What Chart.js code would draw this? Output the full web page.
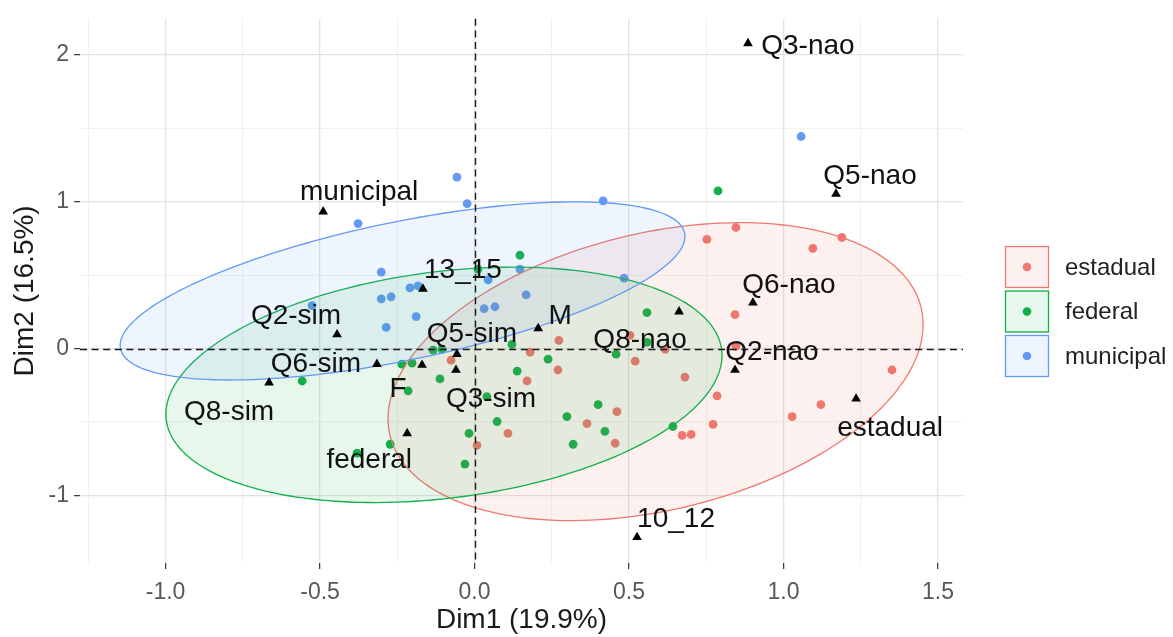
<!DOCTYPE html>
<html>
<head>
<meta charset="utf-8">
<title>MCA biplot</title>
<script src="https://cdn.jsdelivr.net/npm/chart.js@4.4.1/dist/chart.umd.min.js"></script>
<style>
  html, body { margin: 0; padding: 0; background: #ffffff; }
  #wrap { width: 1173px; height: 637px; position: relative; }
</style>
</head>
<body>
<div id="wrap"><canvas id="chart" width="1173" height="637"></canvas></div>
<script>
// ---- groups (school type) ----
const groups = ['estadual', 'federal', 'municipal'];

// ---- individuals, Dim1 / Dim2 coordinates per group ----
const estadualX = [0.752, 0.846, 1.095, 1.189, 0.843, 0.846, 0.617, 0.503, 0.520, 0.681, 0.785, 0.772, 0.672, 0.701, 1.028, 1.121, 1.351, 0.273, 0.180, 0.270, 0.170, -0.076, 0.461, 0.364, 0.455, 0.108, 0.008];
const estadualY = [0.744, 0.825, 0.683, 0.757, 0.231, 0.016, -0.005, 0.090, -0.086, -0.194, -0.322, -0.517, -0.591, -0.585, -0.463, -0.382, -0.146, 0.056, -0.025, -0.146, -0.220, -0.079, -0.430, -0.511, -0.645, -0.578, -0.659];

const federalX = [0.788, 0.147, 0.011, -0.134, -0.105, 0.121, -0.235, -0.202, -0.215, -0.558, -0.112, -0.273, -0.380, -0.018, -0.031, 0.040, 0.073, 0.558, 0.458, 0.238, 0.138, 0.558, 0.299, 0.400, 0.422, 0.319, 0.642];
const federalY = [1.074, 0.636, 0.542, -0.011, -0.005, 0.029, -0.106, -0.099, -0.288, -0.221, -0.207, -0.652, -0.713, -0.578, -0.787, -0.328, -0.497, 0.245, -0.038, -0.072, -0.153, 0.042, -0.463, -0.382, -0.564, -0.652, -0.531];

const municipalX = [1.057, 0.416, -0.057, -0.024, -0.377, -0.302, -0.209, -0.183, -0.302, -0.270, -0.189, -0.286, -0.526, 0.044, 0.147, 0.167, 0.031, 0.066, 0.484];
const municipalY = [1.445, 1.007, 1.168, 0.988, 0.852, 0.521, 0.413, 0.427, 0.339, 0.353, 0.218, 0.144, 0.292, 0.468, 0.541, 0.366, 0.272, 0.285, 0.480];

// ---- variable categories ----
const categoryNames = ['Q3-nao', 'Q5-nao', 'municipal', '13_15', 'Q6-nao', 'M', 'Q8-nao', 'Q2-sim', 'Q5-sim', 'Q6-sim', 'F', 'Q3-sim', 'Q8-sim', 'federal', 'Q2-nao', 'estadual', '10_12'];
const categoryX = [0.885, 1.170, -0.490, -0.167, 0.901, 0.206, 0.662, -0.445, -0.057, -0.316, -0.170, -0.060, -0.665, -0.218, 0.843, 1.235, 0.526];
const categoryY = [2.079, 1.054, 0.933, 0.407, 0.312, 0.137, 0.252, 0.096, -0.038, -0.106, -0.112, -0.146, -0.232, -0.578, -0.146, -0.342, -1.286];

// ---- 95% normal ellipses per group: centre, x / y spread and covariance term ----
const ellipseCenterX = [0.586, -0.099, -0.233];
const ellipseCenterY = [-0.157, -0.247, 0.393];
const ellipseSpreadX = [0.866, 0.900, 0.914];
const ellipseSpreadY = [1.015, 0.802, 0.607];
const ellipseCovXY   = [0.277, 0.180, 0.339];

// ---- axes ----
const xTickValues = [-1.25, -1, -0.75, -0.5, -0.25, 0, 0.25, 0.5, 0.75, 1, 1.25, 1.5];
const xTickLabels = ['', '-1.0', '', '-0.5', '', '0.0', '', '0.5', '', '1.0', '', '1.5'];
const yTickValues = [-1, -0.5, 0, 0.5, 1, 1.5, 2];
const yTickLabels = ['-1', '', '0', '', '1', '', '2'];
const xTitle = 'Dim1 (19.9%)';
const yTitle = 'Dim2 (16.5%)';

// ---- styling ----
const FONT = "'Liberation Sans', Arial, Helvetica, sans-serif";
const groupColors = ['#F0786F', '#10B049', '#6399F5'];
// label placement around each triangle (text centre x, baseline y), in pixels
const labelOffsets = [[60, 11], [34, -10], [36, -12], [40, -11], [36, -10], [22, -4], [-39, 36], [-41, -10], [15, -12], [-61, 8], [-24, 32], [35, 37], [-40, 37], [-38, 35], [37, -10], [34, 37], [39, -10]];

function withAlpha(hex, a) {
  const n = parseInt(hex.slice(1), 16);
  return `rgba(${(n >> 16) & 255}, ${(n >> 8) & 255}, ${n & 255}, ${a})`;
}

function toPoints(xs, ys) {
  return xs.map((x, i) => ({ x: x, y: ys[i] }));
}

const groupXs = [estadualX, federalX, municipalX];
const groupYs = [estadualY, federalY, municipalY];

const datasets = [{
  label: 'categorias',
  data: toPoints(categoryX, categoryY),
  pointStyle: 'triangle',
  pointRadius: 5.6,
  backgroundColor: '#000000',
  borderColor: '#000000',
  borderWidth: 0,
  order: 0
}];
groups.forEach((g, gi) => {
  datasets.push({
    label: g,
    data: toPoints(groupXs[gi], groupYs[gi]),
    pointStyle: 'circle',
    pointRadius: 4.4,
    backgroundColor: groupColors[gi],
    borderWidth: 0,
    order: 1
  });
});

// ellipses drawn over the individuals, under the category markers
const ellipsePlugin = {
  id: 'groupEllipses',
  afterDatasetDraw(chart, args) {
    if (args.index !== 1) return;
    const ctx = chart.ctx;
    const xs = chart.scales.x, ys = chart.scales.y;
    const area = chart.chartArea;
    ctx.save();
    ctx.beginPath();
    ctx.rect(area.left, area.top, area.right - area.left, area.bottom - area.top);
    ctx.clip();
    groups.forEach((g, gi) => {
      const cx = ellipseCenterX[gi], cy = ellipseCenterY[gi];
      const w = ellipseSpreadX[gi], h = ellipseSpreadY[gi];
      const k = ellipseCovXY[gi] / w;
      const m = Math.sqrt(Math.max(h * h - k * k, 0));
      ctx.beginPath();
      for (let t = 0; t <= 360; t += 2) {
        const a = t * Math.PI / 180;
        const px = xs.getPixelForValue(cx + w * Math.cos(a));
        const py = ys.getPixelForValue(cy + k * Math.cos(a) + m * Math.sin(a));
        if (t === 0) ctx.moveTo(px, py); else ctx.lineTo(px, py);
      }
      ctx.closePath();
      ctx.fillStyle = withAlpha(groupColors[gi], 0.1);
      ctx.fill();
      ctx.lineWidth = 1.3;
      ctx.strokeStyle = groupColors[gi];
      ctx.stroke();
    });
    ctx.restore();
  }
};

// category labels and the dashed reference lines
const overlayPlugin = {
  id: 'labelsAndRefLines',
  afterDatasetsDraw(chart) {
    const ctx = chart.ctx;
    const xs = chart.scales.x, ys = chart.scales.y;
    const area = chart.chartArea;
    ctx.save();
    ctx.font = `28px ${FONT}`;
    ctx.fillStyle = '#111111';
    ctx.textAlign = 'center';
    ctx.textBaseline = 'alphabetic';
    categoryNames.forEach((name, i) => {
      const px = xs.getPixelForValue(categoryX[i]) + labelOffsets[i][0];
      const py = ys.getPixelForValue(categoryY[i]) + labelOffsets[i][1];
      ctx.fillText(name, px, py);
    });
    ctx.strokeStyle = '#1a1a1a';
    ctx.lineWidth = 1.4;
    ctx.setLineDash([7, 4.6]);
    const x0 = Math.round(xs.getPixelForValue(0)) + 0.5;
    const y0 = Math.round(ys.getPixelForValue(0)) + 0.5;
    ctx.beginPath();
    ctx.moveTo(x0, area.top);
    ctx.lineTo(x0, area.bottom);
    ctx.moveTo(area.left, y0);
    ctx.lineTo(area.right, y0);
    ctx.stroke();
    ctx.restore();
  }
};

// legend: one filled key per group with its point colour
const legendPlugin = {
  id: 'groupLegend',
  afterDraw(chart) {
    const ctx = chart.ctx;
    const left = chart.chartArea.right + 42;
    ctx.save();
    groups.forEach((g, gi) => {
      const top = 245 + 44.5 * gi;
      ctx.fillStyle = withAlpha(groupColors[gi], 0.1);
      ctx.fillRect(left, top + 1, 44, 42);
      ctx.strokeStyle = groupColors[gi];
      ctx.lineWidth = 1.3;
      ctx.strokeRect(left + 0.5, top + 1.5, 43, 41);
      ctx.beginPath();
      ctx.arc(left + 22, top + 22, 4.3, 0, Math.PI * 2);
      ctx.fillStyle = groupColors[gi];
      ctx.fill();
      ctx.font = `24px ${FONT}`;
      ctx.fillStyle = '#222222';
      ctx.textAlign = 'left';
      ctx.textBaseline = 'middle';
      ctx.fillText(g, left + 60, top + 23);
    });
    ctx.restore();
  }
};

function gridColor(labels, values) {
  return (c) => {
    if (!c.tick) return 'transparent';
    const i = values.indexOf(c.tick.value);
    return i >= 0 && labels[i] !== '' ? '#E3E3E3' : '#EEEEEE';
  };
}
function gridWidth(labels, values) {
  return (c) => {
    if (!c.tick) return 1;
    const i = values.indexOf(c.tick.value);
    return i >= 0 && labels[i] !== '' ? 1.3 : 0.8;
  };
}
function tickMarkColor(labels, values) {
  return (c) => {
    if (!c.tick) return 'transparent';
    const i = values.indexOf(c.tick.value);
    return i >= 0 && labels[i] !== '' ? '#333333' : 'rgba(0,0,0,0)';
  };
}

new Chart(document.getElementById('chart'), {
  type: 'scatter',
  data: { datasets: datasets },
  options: {
    responsive: false,
    devicePixelRatio: 1,
    animation: false,
    events: [],
    layout: { padding: { left: 0, right: 210, top: 13, bottom: 0 } },
    plugins: {
      legend: { display: false },
      tooltip: { enabled: false }
    },
    scales: {
      x: {
        type: 'linear',
        position: 'bottom',
        min: -1.277,
        max: 1.581,
        afterBuildTicks: (scale) => { scale.ticks = xTickValues.map(v => ({ value: v })); },
        afterFit: (scale) => { scale.height = 74; },
        border: { display: false },
        grid: {
          color: gridColor(xTickLabels, xTickValues),
          lineWidth: gridWidth(xTickLabels, xTickValues),
          drawTicks: true,
          tickLength: 6,
          tickWidth: 1.2,
          tickColor: tickMarkColor(xTickLabels, xTickValues)
        },
        ticks: {
          autoSkip: false,
          maxRotation: 0,
          minRotation: 0,
          padding: 10,
          color: '#585858',
          font: { family: FONT, size: 23 },
          callback: (value) => { const i = xTickValues.indexOf(value); return i >= 0 ? xTickLabels[i] : ''; }
        },
        title: {
          display: true,
          text: xTitle,
          color: '#1a1a1a',
          font: { family: FONT, size: 28, lineHeight: 1.2 },
          padding: { top: 0, bottom: 0 }
        }
      },
      y: {
        type: 'linear',
        position: 'left',
        min: -1.461,
        max: 2.247,
        afterBuildTicks: (scale) => { scale.ticks = yTickValues.map(v => ({ value: v })); },
        afterFit: (scale) => { scale.width = 80; },
        border: { display: false },
        grid: {
          color: gridColor(yTickLabels, yTickValues),
          lineWidth: gridWidth(yTickLabels, yTickValues),
          drawTicks: true,
          tickLength: 6,
          tickWidth: 1.2,
          tickColor: tickMarkColor(yTickLabels, yTickValues)
        },
        ticks: {
          autoSkip: false,
          padding: 5,
          color: '#585858',
          font: { family: FONT, size: 23 },
          callback: (value) => { const i = yTickValues.indexOf(value); return i >= 0 ? yTickLabels[i] : ''; }
        },
        title: {
          display: true,
          text: yTitle,
          color: '#1a1a1a',
          font: { family: FONT, size: 28, lineHeight: 1.2 },
          padding: { top: 8, bottom: 0 }
        }
      }
    }
  },
  plugins: [ellipsePlugin, overlayPlugin, legendPlugin]
});
</script>
</body>
</html>
